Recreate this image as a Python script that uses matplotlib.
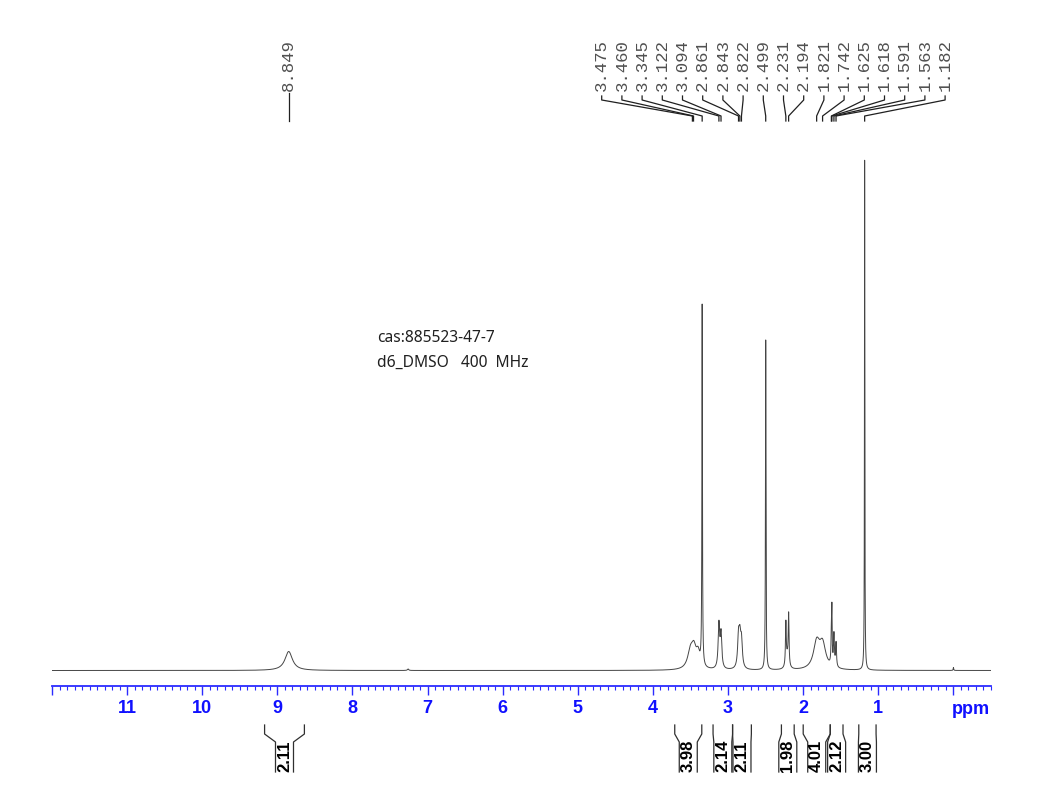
import numpy as np
import matplotlib
matplotlib.use("Agg")
import matplotlib.pyplot as plt
from matplotlib.ticker import MultipleLocator

# --- данные спектра: положение пика (ppm), высота, полуширина (ppm) ---
peak_ppm = [8.849, 7.26, 3.50, 3.455, 3.40, 3.345, 3.122, 3.094, 2.861, 2.843, 2.822,
            2.499, 2.231, 2.212, 2.194, 1.821, 1.742, 1.625, 1.618, 1.591, 1.563,
            1.182, 0.0]
peak_height = [19, 1.5, 18, 17, 14, 360, 44, 34, 30, 26, 26,
               330, 42, 12, 50, 26, 24, 30, 48, 32, 24,
               510, 3]
peak_width = [0.06, 0.01, 0.045, 0.035, 0.03, 0.004, 0.012, 0.012, 0.014, 0.014, 0.014,
              0.004, 0.006, 0.02, 0.006, 0.05, 0.05, 0.006, 0.004, 0.007, 0.007,
              0.003, 0.004]

# подписи химических сдвигов
shift_labels = ["3.475", "3.460", "3.345", "3.122", "3.094", "2.861", "2.843",
                "2.822", "2.499", "2.231", "2.194", "1.821", "1.742", "1.625",
                "1.618", "1.591", "1.563", "1.182"]
single_label = "8.849"

# интегралы
integral_ranges = [(9.17, 8.64), (3.71, 3.35), (3.20, 2.94), (2.94, 2.69),
                   (2.29, 2.12), (2.00, 1.64), (1.64, 1.47), (1.26, 1.03)]
integral_values = ["2.11", "3.98", "2.14", "2.11", "1.98", "4.01", "2.12", "3.00"]

info_lines = ["cas:885523-47-7", "d6_DMSO   400  MHz"]

# --- геометрия (пиксели исходной картинки) ---
W, H = 1048, 812
X0, X1 = 52, 991          # края оси
PPM_L, PPM_R = 12.0, -0.5
K = (X1 - X0) / (PPM_L - PPM_R)
AXIS_Y = 686.7
BASE_Y = 671.5


def px2ppm(x):
    return PPM_L - (x - X0) / K


def py(y):
    # пиксель сверху -> координата данных
    return BASE_Y - y


ppm = np.linspace(PPM_L, PPM_R, 80000)
spec = np.zeros_like(ppm)
for p0, h, w in zip(peak_ppm, peak_height, peak_width):
    spec += h / (1 + ((ppm - p0) / w) ** 2)

fig = plt.figure(figsize=(W / 100, H / 100), dpi=100)
ax = fig.add_axes([X0 / W, (H - AXIS_Y) / H, (X1 - X0) / W, AXIS_Y / H])
ax.plot(ppm, spec, color="#454545", lw=0.7)
ax.set_xlim(PPM_L, PPM_R)
ax.set_ylim(py(AXIS_Y), py(0))

for s in ["top", "left", "right"]:
    ax.spines[s].set_visible(False)
ax.spines["bottom"].set_color("#2b2bff")
ax.spines["bottom"].set_linewidth(1.3)
ax.set_yticks([])
ax.xaxis.set_major_locator(MultipleLocator(1))
ax.xaxis.set_minor_locator(MultipleLocator(0.1))
ax.tick_params(axis="x", which="major", length=6.5, width=1, color="#2b2bff",
               pad=3, labelsize=13, labelcolor="#1010ff")
ax.tick_params(axis="x", which="minor", length=3, width=0.8, color="#2b2bff")
ax.xaxis.set_major_formatter(plt.FuncFormatter(
    lambda v, p: "" if round(v) in (0, 12) or v < 0 else f"{int(round(v))}"))
for t in ax.get_xticklabels():
    t.set_fontweight("bold")
    t.set_family(["Liberation Sans", "DejaVu Sans"])
ax.text(px2ppm(971), py(709.5), "ppm", ha="center", va="center", fontsize=13,
        fontweight="bold", color="#1010ff", family=["Liberation Sans", "DejaVu Sans"],
        clip_on=False)

# --- подписи пиков сверху ---
lab_font = dict(family=["Liberation Mono", "DejaVu Sans Mono"], fontsize=12.5,
                color="#505050", rotation=90, ha="center", va="bottom")
line_kw = dict(color="#202020", lw=0.9, clip_on=False)
for i, lab in enumerate(shift_labels):
    xl = px2ppm(601.7 + i * 20.2)
    xp = float(lab)
    ax.text(xl, py(91), lab, **lab_font)
    ax.plot([xl, xl, xp, xp], [py(97), py(101), py(117), py(122)], **line_kw)

xp = float(single_label)
ax.text(xp, py(91), single_label, **lab_font)
ax.plot([xp, xp], [py(94), py(122)], **line_kw)

# --- текст ---
for j, line in enumerate(info_lines):
    ax.text(px2ppm(377), py(338 + j * 25), line, ha="left", va="center",
            fontsize=11.2, color="#202020", family=["Noto Sans", "DejaVu Sans"])

# --- интегралы ---
hw = 9 / K
for (a, b), val in zip(integral_ranges, integral_values):
    c = (a + b) / 2
    for top, low in [(a, c + hw), (b, c - hw)]:
        ax.plot([top, top, low, low], [py(726), py(735), py(743), py(773)],
                color="#303030", lw=0.9, clip_on=False)
    ax.text(c, py(756), val, rotation=90, ha="center", va="center", fontsize=12,
            fontweight="bold", color="black",
            family=["Liberation Sans Narrow", "Liberation Sans", "DejaVu Sans"])

fig.savefig("out.png", dpi=100)
